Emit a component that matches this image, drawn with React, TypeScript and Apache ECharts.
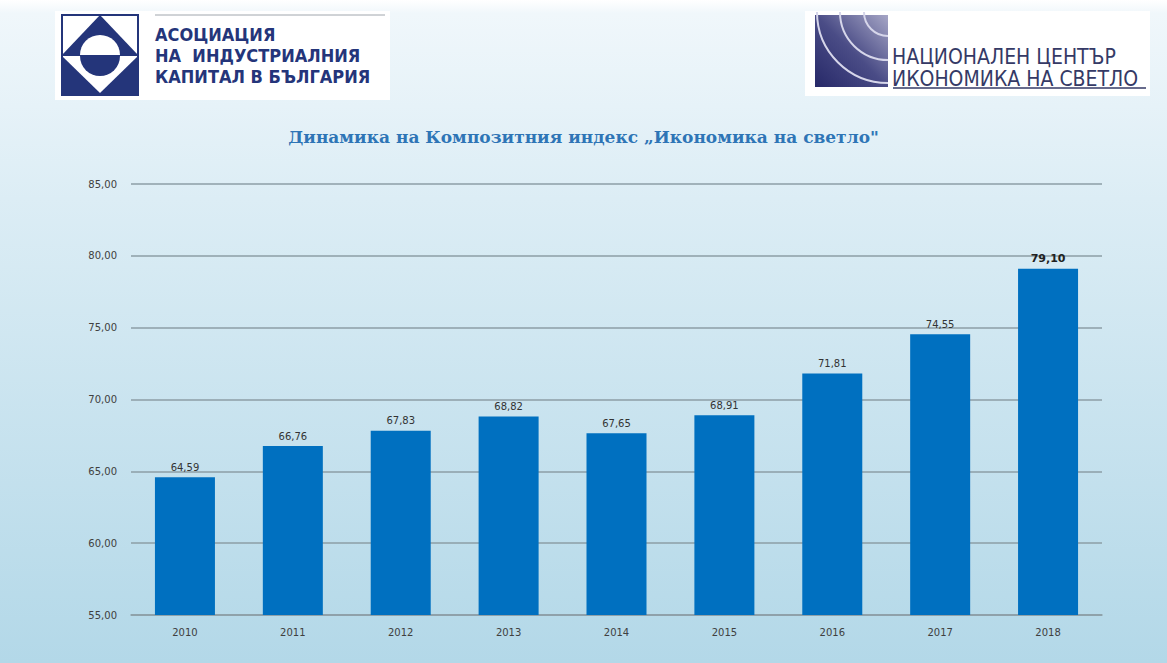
import React, { useEffect, useRef } from "react";
import * as echarts from "echarts";

const years = ["2010", "2011", "2012", "2013", "2014", "2015", "2016", "2017", "2018"];
const values = [64.59, 66.76, 67.83, 68.82, 67.65, 68.91, 71.81, 74.55, 79.1];
const title = "Динамика на Композитния индекс „Икономика на светло\"";
const leftLogoLines = ["АСОЦИАЦИЯ", "НА  ИНДУСТРИАЛНИЯ", "КАПИТАЛ В БЪЛГАРИЯ"];
const rightLogoLines = ["НАЦИОНАЛЕН ЦЕНТЪР", "ИКОНОМИКА НА СВЕТЛО"];

const fmt = (v: number) => v.toFixed(2).replace(".", ",");

export default function App() {
  const ref = useRef<HTMLDivElement>(null);
  useEffect(() => {
    document.body.style.margin = "0";
    const chart = echarts.init(ref.current!, null, { renderer: "svg" });
    const navy = "#24357a";
    chart.setOption({
      animation: false,
      backgroundColor: {
        type: "linear", x: 0, y: 0, x2: 0, y2: 1,
        colorStops: [
          { offset: 0, color: "#ffffff" },
          { offset: 0.02, color: "#f0f7fb" },
          { offset: 0.3, color: "#dcedf5" },
          { offset: 1, color: "#b3d8e8" },
        ],
      },
      title: {
        text: title,
        left: "center",
        top: 123,
        textStyle: { fontFamily: "DejaVu Serif", fontWeight: "bold", fontSize: 17, color: "#2e75b6" },
      },
      grid: { left: 131, right: 65, top: 184, bottom: 48 },
      xAxis: {
        type: "category",
        data: years,
        axisLine: { lineStyle: { color: "#8d9ea6", width: 1.5 } },
        axisTick: { show: false },
        axisLabel: { color: "#404040", fontSize: 10, fontFamily: "DejaVu Sans", margin: 12 },
      },
      yAxis: {
        type: "value",
        min: 55,
        max: 85,
        interval: 5,
        axisLine: { show: false },
        axisTick: { show: false },
        splitLine: { lineStyle: { color: "#8d9ea6", width: 1.5 } },
        axisLabel: { color: "#404040", fontSize: 10, fontFamily: "DejaVu Sans", margin: 14, formatter: (v: number) => fmt(v) },
      },
      series: [
        {
          type: "bar",
          barWidth: 60,
          data: values.map((v, i) => ({
            value: v,
            label: i === values.length - 1 ? { fontWeight: "bold", fontSize: 11, color: "#222" } : undefined,
          })),
          itemStyle: { color: "#0070c0" },
          label: {
            show: true,
            position: "top",
            distance: 5,
            fontSize: 10,
            fontFamily: "DejaVu Sans",
            color: "#333",
            formatter: (p: any) => fmt(p.value),
          },
        },
      ],
      graphic: [
        // left logo
        { type: "rect", shape: { x: 55, y: 11, width: 335, height: 89 }, style: { fill: "#ffffff" }, silent: true },
        { type: "line", shape: { x1: 155, y1: 15, x2: 385, y2: 15 }, style: { stroke: "#a0a6ad", lineWidth: 1 } },
        { type: "rect", shape: { x: 62, y: 15, width: 76, height: 80 }, style: { fill: "#ffffff" } },
        { type: "polygon", shape: { points: [[100, 15], [138, 55], [62, 55]] }, style: { fill: navy } },
        { type: "rect", shape: { x: 62, y: 55, width: 76, height: 40 }, style: { fill: navy } },
        { type: "polygon", shape: { points: [[62, 56], [138, 56], [100, 93]] }, style: { fill: "#ffffff" } },
        { type: "sector", shape: { cx: 100, cy: 55, r: 20, startAngle: Math.PI, endAngle: 2 * Math.PI }, style: { fill: "#ffffff" } },
        { type: "sector", shape: { cx: 100, cy: 56, r: 20, startAngle: 0, endAngle: Math.PI }, style: { fill: navy } },
        { type: "rect", shape: { x: 62, y: 15, width: 76, height: 80 }, style: { fill: "none", stroke: navy, lineWidth: 2 } },
        ...leftLogoLines.map((t, i) => ({
          type: "text",
          x: 155,
          y: 25 + i * 21,
          style: { text: t, fill: navy, font: "bold 18px 'DejaVu Sans Condensed', 'DejaVu Sans'" },
        })),
        // right logo
        { type: "rect", shape: { x: 805, y: 11, width: 345, height: 85 }, style: { fill: "#ffffff" }, silent: true },
        {
          type: "rect",
          shape: { x: 815, y: 15, width: 73, height: 72 },
          style: {
            fill: {
              type: "linear", x: 0, y: 1, x2: 1, y2: 0,
              colorStops: [
                { offset: 0, color: "#262868" },
                { offset: 0.5, color: "#4a4c86" },
                { offset: 1, color: "#a6a6c6" },
              ],
            },
          },
        },
        ...[24, 48, 71].map((r) => ({
          type: "arc",
          shape: { cx: 888, cy: 12, r, startAngle: Math.PI / 2, endAngle: Math.PI },
          style: { stroke: "#d6d6ea", lineWidth: 2, fill: "none" },
        })),
        ...rightLogoLines.map((t, i) => ({
          type: "text",
          x: 892,
          y: 46 + i * 22,
          style: { text: t, fill: "#353a66", font: "21px 'DejaVu Sans Condensed', 'DejaVu Sans'" },
        })),
        { type: "line", shape: { x1: 893, y1: 88, x2: 1146, y2: 88 }, style: { stroke: "#353a66", lineWidth: 1.5 } },
      ],
    });
    return () => chart.dispose();
  }, []);
  return <div ref={ref} style={{ width: 1167, height: 663 }} />;
}
